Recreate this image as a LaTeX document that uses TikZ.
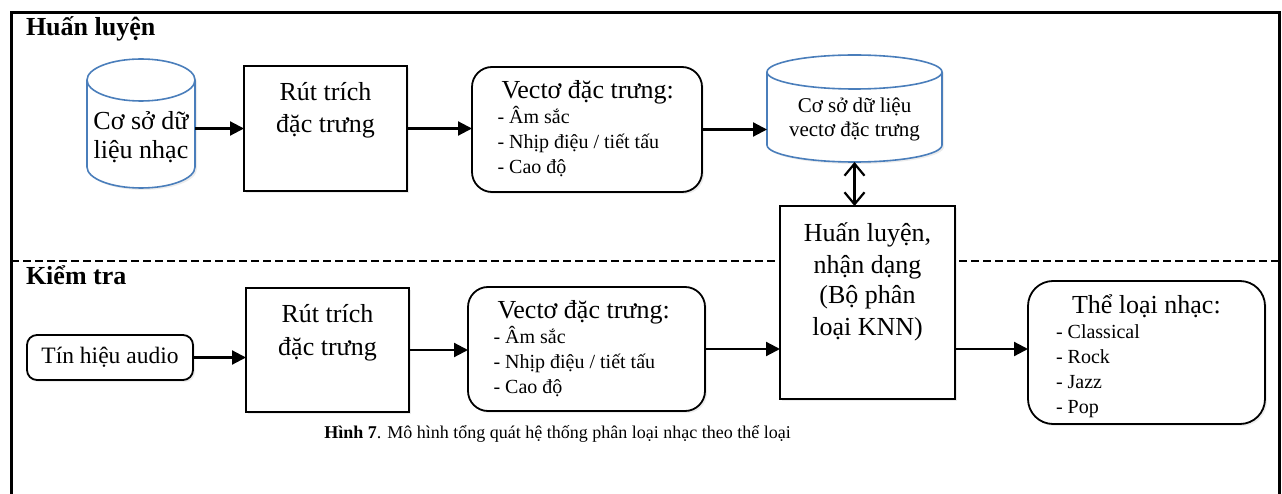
\documentclass[tikz,border=0pt]{standalone}
\usepackage{fontspec}
\setmainfont{Liberation Serif}
\usetikzlibrary{arrows.meta,positioning,shadows}

\definecolor{dbblue}{RGB}{74,126,187}

\begin{document}
\begin{tikzpicture}[x=1pt, y=-1pt, >={Triangle[length=14pt,width=14pt]},
    every node/.style={inner sep=0pt, outer sep=0pt},
    block/.style={draw, line width=1.8pt, fill=white,
      drop shadow={opacity=0.15, shadow xshift=2pt, shadow yshift=-2pt}},
    roundblock/.style={block, rounded corners=20pt},
    db/.style={rectangle},
    dbcyl/.style={draw=dbblue, line width=1.6pt, fill=white,
      drop shadow={opacity=0.15, shadow xshift=2pt, shadow yshift=-2pt}},
    flow/.style={->, line width=2.2pt},
    bigtxt/.style={font=\fontsize{26}{31}\selectfont, anchor=base},
    midtxt/.style={font=\fontsize{21}{25}\selectfont, anchor=base},
    listtxt/.style={font=\fontsize{20}{24}\selectfont, anchor=base west},
    headtxt/.style={font=\fontsize{26}{31}\selectfont\bfseries, anchor=base west}]
  \useasboundingbox (0,0) rectangle (1282,494);

  % frame and separator
  \draw[line width=3pt] (11,494) -- (11,13) -- (1279,13) -- (1279,494);
  \draw[line width=2pt, dash pattern=on 8pt off 4pt] (11,261) -- (1279,261);

  \node[headtxt] (train) at (26,36) {Huấn luyện};
  \node[headtxt] (test) at (26,285) {Kiểm tra};

  % training row
  \node[db, minimum width=108pt, minimum height=129pt] (db1) at (141,123.5) {};
  \node[block, minimum width=163pt, minimum height=125pt] (rut1) at (325.5,128.5) {};
  \node[roundblock, minimum width=230pt, minimum height=125pt] (vec1) at (587,129.5) {};
  \node[db, minimum width=175pt, minimum height=107pt] (db2) at (854.5,108.5) {};

  % the two databases
  \foreach \n/\rx/\ry in {db1/54/21, db2/87.5/17} {
    \draw[dbcyl] ([yshift=-\ry pt]\n.north west) -- ([yshift=\ry pt]\n.south west)
      arc[start angle=180, end angle=360, x radius=\rx pt, y radius=\ry pt]
      -- ([yshift=-\ry pt]\n.north east)
      arc[start angle=0, end angle=180, x radius=\rx pt, y radius=\ry pt] -- cycle;
    \draw[dbblue, line width=1.6pt] ([yshift=-\ry pt]\n.north west)
      arc[start angle=180, end angle=360, x radius=\rx pt, y radius=\ry pt];
  }

  % test row
  \node[roundblock, rounded corners=10pt, minimum width=166pt, minimum height=45pt,
    font=\fontsize{23.5}{28}\selectfont] (audio) at (110,357.5) {Tín hiệu audio};
  \node[block, minimum width=163pt, minimum height=124pt] (rut2) at (327.5,350) {};
  \node[roundblock, minimum width=237pt, minimum height=124pt] (vec2) at (586.5,349) {};
  \node[block, minimum width=175pt, minimum height=193pt] (knn) at (867.5,302.5) {};
  \node[roundblock, rounded corners=25pt, minimum width=237pt, minimum height=143pt] (genre) at (1146.5,352.5) {};

  % texts
  \foreach \t [count=\i] in {Cơ sở dữ, liệu nhạc}
    \node[bigtxt] (db1t\i) at ([yshift=-6.5-29*(\i-1)]db1.center) {\t};
  \foreach \t [count=\i] in {Rút trích, đặc trưng} {
    \node[bigtxt] (rut1t\i) at ([yshift=-34.5-32.5*(\i-1)]rut1.north) {\t};
    \node[bigtxt] (rut2t\i) at ([yshift=-34.5-32.5*(\i-1)]rut2.north) {\t};
  }
  \foreach \t [count=\i] in {Cơ sở dữ liệu, vectơ đặc trưng}
    \node[midtxt] (db2t\i) at ([yshift=-4.5-24*(\i-1)]db2.center) {\t};
  \foreach \t [count=\i] in {{Huấn luyện,}, {nhận dạng}, {(Bộ phân}, {loại KNN)}}
    \node[bigtxt] (knnt\i) at ([yshift=-36-31*(\i-1)]knn.north) {\t};

  \node[bigtxt, anchor=base west] (vec1h) at ([shift={(29.5,31.5)}]vec1.north west) {Vectơ đặc trưng:};
  \node[bigtxt, anchor=base west] (vec2h) at ([shift={(29.5,31.5)}]vec2.north west) {Vectơ đặc trưng:};
  \foreach \t [count=\i] in {Âm sắc, Nhịp điệu / tiết tấu, Cao độ} {
    \node[listtxt] (vec1l\i) at ([shift={(25.5,31.5+25*\i)}]vec1.north west) {- \t};
    \node[listtxt] (vec2l\i) at ([shift={(25.5,31.5+25*\i)}]vec2.north west) {- \t};
  }
  \node[bigtxt, anchor=base west] (genreh) at ([shift={(44,32)}]genre.north west) {Thể loại nhạc:};
  \foreach \t [count=\i] in {Classical, Rock, Jazz, Pop}
    \node[listtxt] (genrel\i) at ([shift={(28,33+24.8*\i)}]genre.north west) {- \t};

  % connectors
  \draw[flow] (db1.east |- rut1.west) -- (rut1.west);
  \draw[flow] (rut1.east) -- (rut1.east -| vec1.west);
  \draw[flow] (vec1.east) -- (vec1.east -| db2.west);
  \draw[{Straight Barb[length=12pt,width=20pt]}-{Straight Barb[length=12pt,width=20pt]}, line width=2.2pt]
    (db2.south) -- (db2.south |- knn.north);
  \draw[flow] (audio.east) -- (audio.east -| rut2.west);
  \draw[flow] (rut2.east) -- (rut2.east -| vec2.west);
  \draw[flow] (vec2.east) -- (vec2.east -| knn.west);
  \draw[flow] (knn.east |- vec2.east) -- (genre.west |- vec2.east);

  \node[font=\fontsize{18}{22}\selectfont, anchor=base] (caption) at (557.5,438)
    {\textbf{Hình 7}. Mô hình tổng quát hệ thống phân loại nhạc theo thể loại};
\end{tikzpicture}
\end{document}
